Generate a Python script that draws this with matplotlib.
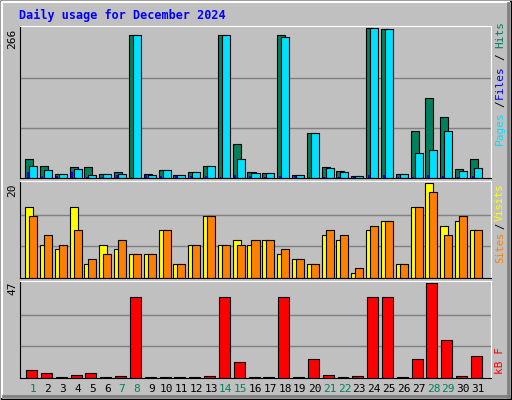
import matplotlib
matplotlib.use("Agg")
import matplotlib.pyplot as plt
import numpy as np

days = list(range(1, 32))
hits = [33,22,7,19,19,7,10,252,7,14,5,11,22,253,60,11,9,252,5,79,20,13,4,266,264,7,83,141,108,16,33]
files = [22,14,7,16,5,7,7,252,5,14,5,11,22,253,33,9,9,250,5,79,18,11,4,266,264,7,45,49,83,13,18]
pages = [11,4,3,11,2,2,5,2,5,4,4,4,4,2,5,4,2,4,4,2,2,2,2,5,5,2,2,5,4,2,4]
sites = [15,7,6,15,3,7,6,5,5,10,3,7,13,7,8,7,8,5,4,3,9,8,1,10,12,3,15,20,11,12,10]
visits = [13,9,7,10,4,5,8,5,5,10,3,7,13,7,7,8,8,6,4,3,10,9,2,11,12,3,15,18,9,13,10]
kbytes = [4,2.6,0.5,1.5,2.6,0.4,1,40,0.4,0.4,0.4,0.4,1,40,8,0.4,0.4,40,0.4,9.3,1.5,0.4,1,40,40,0.4,9.3,47,19,1,11]
weekend = {1,7,8,14,15,21,22,28,29}

W, H = 512, 400
fig = plt.figure(figsize=(W/100, H/100), dpi=100, facecolor="#c0c0c0")
bg = fig.add_axes([0, 0, 1, 1]); bg.set_axis_off()
bg.set_xlim(0, W); bg.set_ylim(H, 0)
bg.plot([1, W-1, W-1, 1, 1], [1, 1, H-1, H-1, 1], color="black", lw=1)
bg.plot([2, W-3], [2, 2], color="white", lw=1.5)
bg.plot([2, 2], [2, H-3], color="white", lw=1.5)
bg.plot([3, W-3], [H-4, H-4], color="#808080", lw=2)
bg.plot([W-4, W-4], [3, H-3], color="#808080", lw=2)
fig.text(19/W, 1-15/H, "Daily usage for December 2024", color="#0000ff",
         fontsize=8.5, fontweight="bold", family="DejaVu Sans Mono", va="center")

def mkax(top, bottom):
    ax = fig.add_axes([20/W, 1-bottom/H, 471/W, (bottom-top)/H])
    ax.set_facecolor("#c0c0c0")
    ax.set_xlim(0.12, 31.88)
    for s in ax.spines.values():
        s.set_color("black")
    ax.spines["top"].set_color("white"); ax.spines["right"].set_color("white")
    ax.set_xticks([]); ax.set_yticks([])
    return ax

def rlab(y, s, c, fs=8):
    fig.text(500/W, 1-y/H, s, color=c, rotation=90, fontsize=fs,
             family="DejaVu Sans Mono", ha="center", va="center")

x = np.array(days)
ek = dict(edgecolor="black", linewidth=0.8, align="edge")

ax1 = mkax(26, 178)
ax1.set_ylim(0, 266*1.01)
for g in (266/3, 266*2/3):
    ax1.axhline(g, color="#808080", lw=1, zorder=0)
ax1.bar(x-0.54, hits, 0.54, color="#00805c", **ek)
ax1.bar(x-0.27, files, 0.54, color="#00e0ff", **ek)
ax1.bar(x-0.42, pages, 0.12, color="#0000ff", edgecolor="none", align="edge")
fig.text(12/W, 1-39/H, "266", rotation=90, fontsize=8, family="DejaVu Sans Mono", ha="center", va="center")
rlab(34, "Hits", "#00805c"); rlab(57, "/", "black"); rlab(82, "Files", "#0000ff")
rlab(104, "/", "black"); rlab(128, "Pages", "#00e0ff")

ax2 = mkax(181, 278)
ax2.set_ylim(0, 20*1.02)
for g in (20/3, 40/3):
    ax2.axhline(g, color="#808080", lw=1, zorder=0)
ax2.bar(x-0.54, sites, 0.54, color="#ffff00", **ek)
ax2.bar(x-0.27, visits, 0.54, color="#ff8000", **ek)
fig.text(12/W, 1-190/H, "20", rotation=90, fontsize=8, family="DejaVu Sans Mono", ha="center", va="center")
rlab(202, "Visits", "#ffff00", 7.5); rlab(226, "/", "black", 7.5); rlab(247, "Sites", "#ff8000", 7.5)

ax3 = mkax(281, 378)
ax3.set_ylim(0, 47*1.02)
for g in (47/3, 94/3):
    ax3.axhline(g, color="#808080", lw=1, zorder=0)
ax3.bar(x-0.47, kbytes, 0.74, color="#ff0000", **ek)
fig.text(12/W, 1-288/H, "47", rotation=90, fontsize=8, family="DejaVu Sans Mono", ha="center", va="center")
rlab(360, "kB F", "#ff0000")

for d in days:
    xp = 33 + 14.83*(d-1)
    fig.text(xp/W, 1-389/H, str(d), color="#00805c" if d in weekend else "black",
             fontsize=8, family="DejaVu Sans Mono", ha="center", va="center")

fig.savefig("out.png", dpi=100, facecolor=fig.get_facecolor())
